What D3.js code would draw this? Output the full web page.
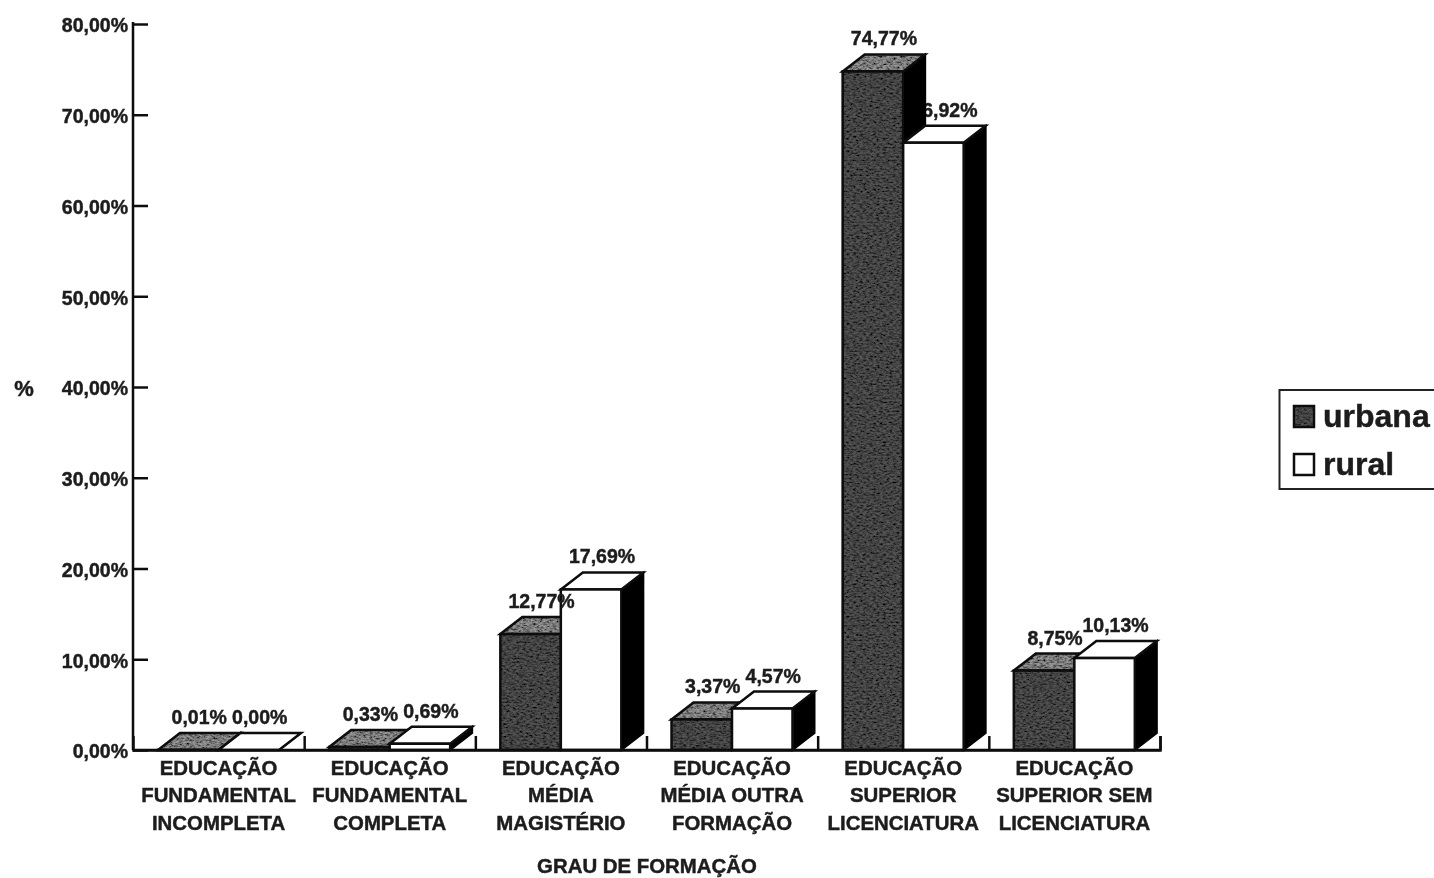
<!DOCTYPE html>
<html>
<head>
<meta charset="utf-8">
<script src="https://cdn.jsdelivr.net/npm/d3@7"></script>
<style>
  html, body { margin: 0; padding: 0; background: #fff; }
  svg { display: block; }
  text { font-family: "Liberation Sans", Arial, sans-serif; font-weight: bold; fill: #1c1c1c; stroke: #1c1c1c; stroke-width: 0.45px; }
</style>
</head>
<body>
<svg id="chart" width="1434" height="878"></svg>
<script>
// data
var categories = [
  ['EDUCAÇÃO', 'FUNDAMENTAL', 'INCOMPLETA'],
  ['EDUCAÇÃO', 'FUNDAMENTAL', 'COMPLETA'],
  ['EDUCAÇÃO', 'MÉDIA', 'MAGISTÉRIO'],
  ['EDUCAÇÃO', 'MÉDIA OUTRA', 'FORMAÇÃO'],
  ['EDUCAÇÃO', 'SUPERIOR', 'LICENCIATURA'],
  ['EDUCAÇÃO', 'SUPERIOR SEM', 'LICENCIATURA']
];
var urbana = [0.01, 0.33, 12.77, 3.37, 74.77, 8.75];
var rural = [0.00, 0.69, 17.69, 4.57, 66.92, 10.13];
var yTicks = [0, 10, 20, 30, 40, 50, 60, 70, 80];
var seriesNames = ['urbana', 'rural'];

var LEFT = 133, RIGHT = 1160, BASE = 750, TOP = 24,
  DX = 22, DY = 17, BAR_PAD = 25, LABEL_FONT = 19.5;

var svg = d3.select('#chart');

function pct(v) {
  return v.toFixed(2).replace('.', ',') + '%';
}

var defs = svg.append('defs');

// scan look: everything a bit soft
defs.append('filter').attr('id', 'soft')
  .attr('filterUnits', 'userSpaceOnUse')
  .attr('x', 0).attr('y', 0).attr('width', 1434).attr('height', 878)
  .append('feGaussianBlur').attr('stdDeviation', 0.75);

// speckle for the urbana bars
var grain = defs.append('filter').attr('id', 'grain')
  .attr('filterUnits', 'userSpaceOnUse')
  .attr('x', 0).attr('y', 0).attr('width', 1434).attr('height', 878);
grain.append('feTurbulence').attr('type', 'fractalNoise')
  .attr('baseFrequency', '0.3 0.55').attr('numOctaves', 3).attr('seed', 7).attr('result', 'n');
grain.append('feColorMatrix').attr('in', 'n').attr('type', 'matrix')
  .attr('values', '2 0 0 0 -0.4  2 0 0 0 -0.4  2 0 0 0 -0.4  0 0 0 0 1').attr('result', 'g');
grain.append('feComposite').attr('in', 'g').attr('in2', 'SourceGraphic')
  .attr('operator', 'arithmetic').attr('k1', 1).attr('k2', 0).attr('k3', 0).attr('k4', 0);

var root = svg.append('g').attr('filter', 'url(#soft)');

var x0 = d3.scaleBand().domain(d3.range(categories.length)).range([LEFT, RIGHT]);
var x1 = d3.scaleBand().domain(seriesNames).range([BAR_PAD, BAR_PAD + 121]);
var y = d3.scaleLinear().domain([0, 80]).range([BASE, TOP]);
var xTick = d3.scaleLinear().domain([0, categories.length]).range([LEFT, RIGHT]);

// Y axis, ticks point into the plot
var yAxis = root.append('g')
  .attr('transform', 'translate(' + LEFT + ',0)')
  .call(d3.axisLeft(y).tickValues(yTicks).tickSize(-15).tickPadding(5)
    .tickFormat(function(d) { return pct(d); }));
yAxis.selectAll('line, path').attr('stroke', '#111').attr('stroke-width', 2.5);
yAxis.selectAll('text').style('font-size', LABEL_FONT + 'px')
  .attr('dy', '0.4em').attr('fill', '#1c1c1c');
yAxis.select('.domain').attr('d', 'M0,' + (TOP - 2) + 'V' + BASE);

// X axis, ticks point up at the category borders
var xAxis = root.append('g')
  .attr('transform', 'translate(0,' + BASE + ')')
  .call(d3.axisBottom(xTick).tickValues(d3.range(1, categories.length + 1))
    .tickSize(-14).tickFormat(''));
xAxis.selectAll('line, path').attr('stroke', '#111').attr('stroke-width', 2.5);

function barX(name, i) {
  return x0(i) + x1(name);
}

function drawBars(name, values, frontFill, topFill, filter) {
  var w = x1.bandwidth();
  var g = root.append('g').attr('class', 'bars-' + name);
  var groups = g.selectAll('g').data(values).enter().append('g');

  groups.append('path') // side
    .attr('d', function(d, i) {
      var a = barX(name, i) + w, t = y(d);
      return 'M' + a + ',' + t + 'l' + DX + ',' + (-DY) + 'V' + (BASE - DY) + 'L' + a + ',' + BASE + 'Z';
    })
    .attr('fill', '#050505').attr('stroke', '#050505').attr('stroke-width', 2);

  groups.append('path') // top
    .attr('d', function(d, i) {
      var a = barX(name, i), t = y(d);
      return 'M' + a + ',' + t + 'l' + DX + ',' + (-DY) + 'h' + w + 'l' + (-DX) + ',' + DY + 'Z';
    })
    .attr('fill', topFill).attr('filter', filter);

  groups.append('path') // top outline
    .attr('d', function(d, i) {
      var a = barX(name, i), t = y(d);
      return 'M' + a + ',' + t + 'l' + DX + ',' + (-DY) + 'h' + w + 'l' + (-DX) + ',' + DY + 'Z';
    })
    .attr('fill', 'none').attr('stroke', '#0a0a0a').attr('stroke-width', 2.5);

  groups.append('rect') // front
    .attr('x', function(d, i) { return barX(name, i); })
    .attr('y', function(d) { return y(d); })
    .attr('width', w)
    .attr('height', function(d) { return BASE - y(d); })
    .attr('fill', frontFill).attr('filter', filter);

  groups.append('rect')
    .attr('x', function(d, i) { return barX(name, i); })
    .attr('y', function(d) { return y(d); })
    .attr('width', w)
    .attr('height', function(d) { return BASE - y(d); })
    .attr('fill', 'none').attr('stroke', '#0a0a0a').attr('stroke-width', 2.5);
}

function drawLabels(name, values) {
  root.append('g').selectAll('text').data(values).enter().append('text')
    .attr('x', function(d, i) { return barX(name, i) + x1.bandwidth() / 2 + DX / 2; })
    .attr('y', function(d) { return y(d) - DY - 9; })
    .attr('text-anchor', 'middle')
    .style('font-size', LABEL_FONT + 'px')
    .text(function(d) { return pct(d); });
}

// rural labels go under the bars, the 6 of 66,92% is hidden by the urbana side
drawLabels('rural', rural);
drawBars('urbana', urbana, '#555', '#999', 'url(#grain)');
drawBars('rural', rural, '#fff', '#fff', null);
drawLabels('urbana', urbana);

// base line on top of the bars
root.append('line')
  .attr('x1', LEFT).attr('x2', RIGHT).attr('y1', BASE).attr('y2', BASE)
  .attr('stroke', '#111').attr('stroke-width', 2.5);

// Category labels
var catLabels = root.append('g').selectAll('text').data(categories).enter().append('text')
  .attr('text-anchor', 'middle')
  .style('font-size', '20.4px');
catLabels.selectAll('tspan').data(function(d, i) {
    return d.map(function(line) { return { line: line, i: i }; });
  }).enter().append('tspan')
  .attr('x', function(d) { return x0(d.i) + x0.bandwidth() / 2; })
  .attr('y', function(d, j) { return 775 + j * 27.3; })
  .text(function(d) { return d.line; });

root.append('text')
  .attr('x', 647).attr('y', 873)
  .attr('text-anchor', 'middle')
  .style('font-size', '20.4px')
  .text('GRAU DE FORMAÇÃO');

root.append('text')
  .attr('x', 24).attr('y', 396)
  .attr('text-anchor', 'middle')
  .style('font-size', '22px')
  .text('%');

// Legend
var legend = root.append('g');
legend.append('rect')
  .attr('x', 1279.5).attr('y', 390).attr('width', 160).attr('height', 99)
  .attr('fill', '#fff').attr('stroke', '#222').attr('stroke-width', 2);

var legendRows = legend.selectAll('g').data(seriesNames).enter().append('g')
  .attr('transform', function(d, i) { return 'translate(1294,' + (406 + i * 48) + ')'; });
legendRows.append('rect')
  .attr('width', 20).attr('height', 21)
  .attr('fill', function(d) { return d === 'urbana' ? '#555' : '#fff'; })
  .attr('filter', function(d) { return d === 'urbana' ? 'url(#grain)' : null; });
legendRows.append('rect')
  .attr('width', 20).attr('height', 21)
  .attr('fill', 'none').attr('stroke', '#111').attr('stroke-width', 2.5);
legendRows.append('text')
  .attr('x', 29).attr('y', 21)
  .style('font-size', '32px')
  .text(function(d) { return d; });
</script>
</body>
</html>
